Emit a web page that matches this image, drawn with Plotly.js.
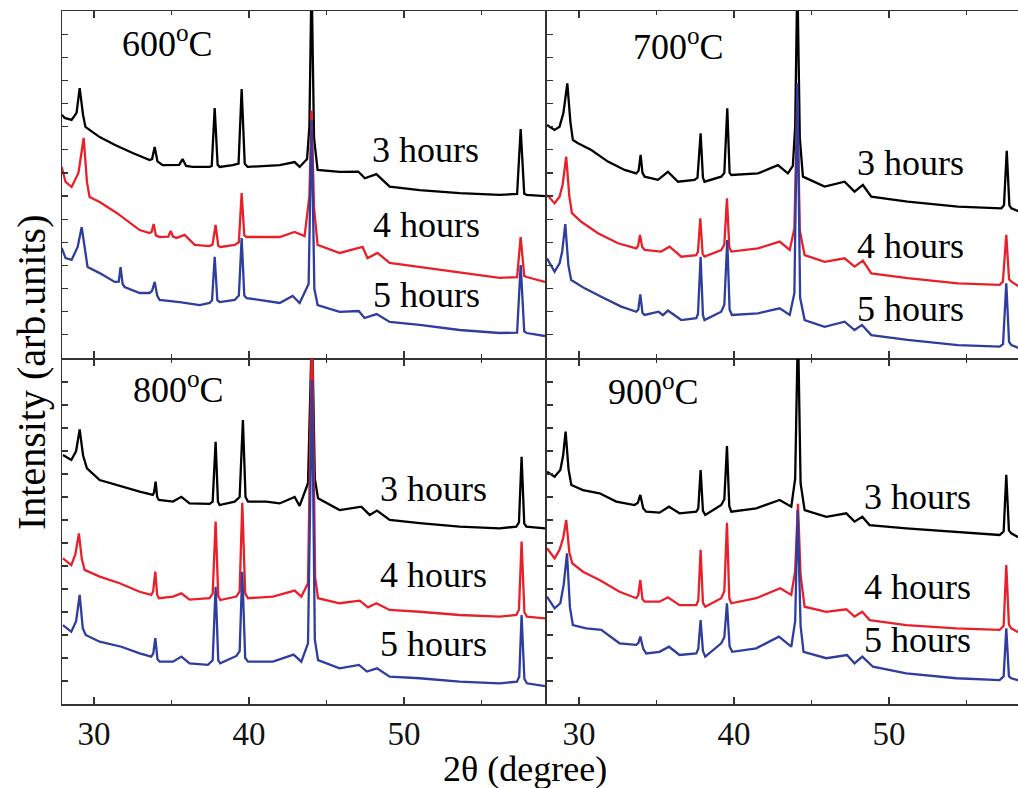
<!DOCTYPE html>
<html>
<head>
<meta charset="utf-8">
<script src="https://cdn.plot.ly/plotly-3.0.1.min.js"></script>
<style>
html,body{margin:0;padding:0;overflow:hidden;background:#fff;}
#chart{width:1040px;height:788px;}
</style>
</head>
<body>
<div id="chart"></div>
<script>
// ---- Data: [2theta, intensity (arb. offset units)] ----
const temps = ["600", "700", "800", "900"];
const hourLabels = ["3 hours", "4 hours", "5 hours"];
const tickVals = [30, 40, 50];
const minorTickVals = [35, 45, 55];

const p600_3h = [[27.92,10.51],[28.11,10.38],[28.56,10.29],[28.88,10.6],[29.08,11.67],[29.3,10.5],[29.45,9.99],[30.37,9.55],[31.4,9.2],[32.5,8.86],[33.59,8.56],[33.75,8.6],[33.92,9.12],[34.1,8.5],[34.43,8.34],[35.5,8.35],[35.72,8.6],[35.95,8.3],[36.37,8.26],[37.46,8.26],[37.6,8.3],[37.79,10.8],[37.98,8.35],[38.11,8.26],[38.95,8.34],[39.33,8.4],[39.53,11.63],[39.73,8.4],[39.92,8.26],[41.98,8.34],[42.95,8.47],[43.27,8.26],[43.75,8.6],[43.9,10],[44.04,16.5],[44.2,9.5],[44.43,8.13],[45.85,8.05],[47.05,8.06],[47.48,7.77],[48.22,7.95],[49.08,7.41],[51.01,7.26],[53.59,7.13],[56.17,7.05],[57.3,7.09],[57.53,9.9],[57.76,7.1],[57.92,7.05],[59.1,7.0]];
const p600_4h = [[27.92,8.26],[28.17,7.61],[28.56,7.39],[29.0,8.0],[29.34,9.51],[29.55,7.6],[29.72,6.96],[30.37,6.74],[31.47,6.27],[32.95,5.53],[33.59,5.4],[33.72,5.45],[33.85,5.79],[34.0,5.3],[34.24,5.23],[34.8,5.25],[34.95,5.49],[35.1,5.25],[35.34,5.19],[35.85,5.32],[36.5,4.89],[37.46,4.84],[37.65,4.9],[37.85,5.75],[38.02,4.85],[38.17,4.8],[39.08,4.89],[39.35,5.0],[39.53,7.13],[39.7,5.3],[39.85,5.23],[41.98,5.23],[42.95,5.45],[43.59,5.27],[43.9,7.0],[44.04,10.7],[44.2,6.5],[44.43,4.89],[45.85,4.54],[47.33,4.8],[47.65,4.32],[48.3,4.54],[49.08,4.11],[51.01,3.93],[53.59,3.72],[56.17,3.46],[57.3,3.5],[57.53,5.23],[57.76,3.55],[57.92,3.5],[59.1,3.29]];
const p600_5h = [[27.92,4.76],[28.17,4.32],[28.56,4.24],[28.95,4.8],[29.21,5.66],[29.42,4.6],[29.59,3.93],[30.37,3.67],[31.34,3.29],[31.6,3.3],[31.72,3.93],[31.85,3.2],[31.98,3.07],[32.95,2.81],[33.59,2.81],[33.75,2.9],[33.92,3.29],[34.08,2.7],[34.24,2.51],[35.53,2.42],[36.82,2.29],[37.46,2.38],[37.62,2.5],[37.79,4.37],[37.96,2.5],[38.11,2.42],[39.08,2.51],[39.35,2.7],[39.53,5.19],[39.7,2.7],[39.85,2.59],[41.98,2.38],[42.82,2.68],[43.27,2.38],[43.85,3.2],[44.04,10.29],[44.22,3.0],[44.43,2.29],[45.85,1.99],[47.08,2.03],[47.46,1.73],[48.24,1.9],[49.08,1.56],[51.01,1.43],[53.59,1.21],[56.17,1.08],[57.3,1.1],[57.53,4.02],[57.76,1.15],[57.92,1.08],[59.1,0.95]];

const p700_3h = [[27.94,10.07],[28.43,9.86],[28.75,10.0],[29.0,10.6],[29.25,11.87],[29.45,10.2],[29.61,9.42],[29.94,9.28],[30.8,8.99],[31.87,8.49],[32.95,8.13],[33.7,7.98],[33.85,8.1],[33.98,8.78],[34.1,8.0],[34.24,7.84],[35.1,7.7],[35.74,8.05],[36.39,7.62],[37.46,7.7],[37.65,7.8],[37.85,9.71],[38.0,7.8],[38.1,7.62],[39.18,7.84],[39.38,8.0],[39.57,10.79],[39.72,8.0],[39.83,7.91],[41.55,7.98],[42.84,8.34],[43.48,7.98],[43.8,8.3],[43.95,10],[44.09,16.5],[44.25,9.5],[44.45,7.84],[45.85,7.41],[47.14,7.62],[47.78,7.19],[48.32,7.48],[48.86,6.97],[51.2,6.76],[54.45,6.54],[57.25,6.47],[57.42,6.6],[57.6,8.96],[57.77,6.6],[57.9,6.47],[58.41,6.33],[59.1,6.3]];
const p700_4h = [[27.94,7.05],[28.43,6.69],[28.75,6.97],[28.95,7.5],[29.18,8.7],[29.38,7.0],[29.55,6.26],[30.15,5.89],[31.23,5.39],[32.52,4.96],[33.7,4.74],[33.82,4.85],[33.94,5.32],[34.08,4.8],[34.24,4.67],[35.3,4.6],[35.85,4.81],[36.6,4.38],[37.57,4.45],[37.68,4.6],[37.83,6.04],[37.98,4.5],[38.1,4.38],[39.18,4.67],[39.38,4.9],[39.55,6.9],[39.7,4.8],[39.83,4.6],[41.55,4.74],[42.95,5.03],[43.6,4.67],[43.9,5.6],[44.09,11.23],[44.25,5.5],[44.56,4.45],[45.85,4.16],[47.14,4.31],[47.78,3.95],[48.32,4.21],[48.86,3.66],[51.2,3.45],[54.45,3.23],[57.14,3.16],[57.35,3.3],[57.57,5.32],[57.75,3.4],[57.9,3.3],[58.41,3.08],[59.1,3.0]];
const p700_5h = [[27.94,4.31],[28.43,3.73],[28.75,4.09],[28.92,4.6],[29.12,5.79],[29.32,4.0],[29.5,3.37],[30.37,3.01],[31.44,2.65],[32.73,2.22],[33.7,2.0],[33.83,2.1],[33.96,2.75],[34.1,1.95],[34.24,1.86],[35.14,2.0],[35.42,1.85],[35.74,2.05],[36.6,1.64],[37.57,1.72],[37.68,1.9],[37.85,4.38],[38.0,1.85],[38.1,1.64],[39.18,2.0],[39.38,2.3],[39.57,5.1],[39.72,2.1],[39.87,1.86],[41.55,1.93],[42.95,2.15],[43.6,1.86],[43.9,2.8],[44.09,11.87],[44.27,2.6],[44.56,1.64],[45.85,1.35],[47.14,1.57],[47.78,1.21],[48.26,1.43],[48.86,0.99],[51.2,0.78],[54.45,0.56],[57.14,0.49],[57.36,0.6],[57.57,3.23],[57.75,0.7],[57.9,0.56],[58.41,0.42],[59.1,0.4]];

const p800_3h = [[28.0,10.83],[28.54,10.61],[28.85,11.0],[29.08,11.94],[29.3,10.8],[29.55,10.25],[30.37,9.74],[31.45,9.52],[32.95,9.23],[33.8,9.09],[33.88,9.2],[33.98,9.67],[34.08,9.0],[34.19,8.87],[35.1,8.8],[35.64,9.01],[36.17,8.72],[37.46,8.7],[37.66,8.8],[37.85,11.4],[38.0,8.8],[38.11,8.65],[39.08,8.8],[39.4,9.0],[39.61,12.35],[39.78,9.0],[39.94,8.8],[41.12,8.8],[41.98,8.72],[42.95,9.0],[43.27,8.61],[43.81,9.6],[44.07,16.5],[44.25,9.8],[44.46,8.94],[45.85,8.43],[47.25,8.58],[47.79,8.22],[48.26,8.41],[49.08,8.0],[51.01,7.86],[53.59,7.71],[56.17,7.64],[57.25,7.71],[57.42,7.9],[57.59,10.75],[57.76,7.85],[57.9,7.71],[58.98,7.64],[59.1,7.64]];
const p800_4h = [[28.0,6.33],[28.54,6.04],[28.8,6.5],[29.03,7.42],[29.22,6.3],[29.4,5.83],[30.37,5.54],[31.66,5.25],[32.95,4.88],[33.7,4.74],[33.82,4.9],[33.96,5.75],[34.08,4.75],[34.19,4.6],[35.1,4.67],[35.64,4.81],[36.17,4.54],[37.46,4.6],[37.66,4.8],[37.85,7.93],[38.02,4.7],[38.15,4.52],[39.19,4.67],[39.4,4.9],[39.57,8.75],[39.76,4.8],[39.94,4.6],[41.55,4.67],[42.95,4.93],[43.38,4.67],[43.81,5.25],[44.07,16.5],[44.27,5.5],[44.46,4.6],[45.85,4.38],[47.15,4.49],[47.68,4.2],[48.22,4.38],[49.08,4.09],[51.01,4.01],[53.59,3.87],[56.17,3.8],[57.25,3.87],[57.42,4.1],[57.59,7.06],[57.77,4.0],[57.93,3.8],[58.98,3.72],[59.1,3.72]];
const p800_5h = [[28.0,3.43],[28.54,3.14],[28.85,3.6],[29.08,4.74],[29.28,3.3],[29.47,3.0],[30.37,2.71],[31.77,2.49],[32.95,2.2],[33.7,2.06],[33.83,2.2],[33.96,2.86],[34.1,1.95],[34.24,1.84],[35.1,1.84],[35.64,2.06],[36.17,1.77],[37.35,1.7],[37.66,1.9],[37.85,5.1],[38.02,1.9],[38.15,1.77],[39.19,2.09],[39.4,2.3],[39.57,5.75],[39.76,2.0],[39.94,1.84],[41.55,1.84],[42.88,2.15],[43.38,1.84],[43.81,2.64],[44.07,14.09],[44.25,2.8],[44.46,1.91],[45.85,1.55],[47.1,1.7],[47.61,1.41],[48.26,1.55],[49.08,1.19],[51.01,1.12],[53.59,0.97],[56.17,0.9],[57.29,0.97],[57.44,1.2],[57.59,3.87],[57.77,1.1],[57.93,0.9],[58.98,0.78],[59.1,0.78]];

const p900_3h = [[27.94,10.1],[28.43,9.88],[28.8,10.17],[28.98,10.8],[29.14,11.84],[29.33,10.2],[29.51,9.52],[30.26,9.3],[31.33,9.16],[32.41,8.8],[33.59,8.65],[33.8,8.75],[33.96,9.09],[34.15,8.5],[34.34,8.36],[35.2,8.32],[35.81,8.58],[36.49,8.29],[37.57,8.36],[37.7,8.5],[37.85,10.17],[38.0,8.4],[38.15,8.22],[39.18,8.65],[39.38,8.9],[39.55,11.22],[39.7,8.6],[39.83,8.36],[41.44,8.51],[42.95,8.87],[43.7,8.58],[43.95,9.8],[44.13,16.5],[44.3,9.6],[44.56,8.43],[45.96,8.14],[47.25,8.29],[47.78,7.93],[48.28,8.14],[48.75,7.78],[51.12,7.64],[54.34,7.49],[57.14,7.35],[57.4,7.5],[57.57,9.96],[57.74,7.55],[57.89,7.42],[58.3,7.27],[59.1,7.25]];
const p900_4h = [[27.94,6.77],[28.43,6.33],[28.75,6.7],[28.98,7.2],[29.18,8.0],[29.38,6.6],[29.57,6.12],[30.26,5.75],[31.33,5.39],[32.62,4.88],[33.7,4.6],[33.83,4.75],[33.96,5.39],[34.1,4.55],[34.24,4.45],[35.2,4.45],[35.74,4.64],[36.49,4.3],[37.57,4.3],[37.7,4.5],[37.85,6.7],[38.0,4.4],[38.15,4.23],[39.18,4.6],[39.38,4.9],[39.55,7.88],[39.7,4.6],[39.83,4.38],[41.44,4.6],[42.99,5.03],[43.7,4.74],[43.95,5.8],[44.13,8.7],[44.3,5.6],[44.56,4.23],[45.96,4.01],[47.25,4.12],[47.78,3.8],[48.28,4.01],[48.75,3.65],[51.12,3.43],[54.34,3.29],[57.14,3.22],[57.4,3.4],[57.57,6.04],[57.74,3.45],[57.89,3.29],[58.3,3.14],[59.1,3.1]];
const p900_5h = [[27.94,4.67],[28.43,4.16],[28.8,4.38],[29.02,5.2],[29.23,6.55],[29.42,4.2],[29.61,3.43],[30.47,3.29],[31.44,3.22],[32.62,2.64],[33.7,2.57],[33.83,2.65],[33.96,2.93],[34.15,2.4],[34.34,2.2],[35.2,2.27],[35.81,2.49],[36.49,2.13],[37.57,2.2],[37.7,2.4],[37.85,3.65],[38.0,2.3],[38.15,2.06],[39.18,2.64],[39.38,2.9],[39.55,4.38],[39.72,2.5],[39.89,2.27],[41.44,2.42],[42.9,2.93],[43.7,2.49],[43.95,3.6],[44.11,8.43],[44.3,3.4],[44.49,2.27],[45.96,1.99],[47.29,2.13],[47.78,1.77],[48.28,2.06],[48.97,1.62],[51.12,1.33],[54.34,1.12],[57.14,1.04],[57.4,1.2],[57.57,3.29],[57.74,1.2],[57.89,1.12],[58.3,1.04],[59.1,1.0]];

const panelSeries = [
  [p600_3h, p600_4h, p600_5h],
  [p700_3h, p700_4h, p700_5h],
  [p800_3h, p800_4h, p800_5h],
  [p900_3h, p900_4h, p900_5h]
];

// ---- Styling / layout ----
const W = 1040, H = 788;
const colors = ["#000000", "#E8202A", "#2E3D9E"];
const FONT = "Liberation Serif, Times New Roman, serif";
const fx = px => px / W;
const fy = py => 1 - py / H;

const xDomL = [fx(62), fx(545)], xDomR = [fx(547), fx(1030)];
const yDomT = [fy(358), fy(11)], yDomB = [fy(704), fy(359)];
const xRange = [27.94, 59.1];

const traces = [];
panelSeries.forEach((series, p) => {
  const sfx = p === 0 ? "" : String(p + 1);
  series.forEach((pts, i) => {
    traces.push({
      type: "scatter", mode: "lines",
      x: pts.map(d => d[0]), y: pts.map(d => d[1]),
      xaxis: "x" + sfx, yaxis: "y" + sfx,
      line: {color: colors[i], width: 2.3},
      hoverinfo: "skip", showlegend: false
    });
  });
});

function xAxis(domain, anchor, labels) {
  return {
    domain, anchor, range: xRange, tickvals: tickVals,
    ticks: "inside", ticklen: 7, tickwidth: 1.3, tickcolor: "#333",
    minor: {tickvals: minorTickVals, ticks: "inside", ticklen: 4, tickwidth: 1.2, tickcolor: "#333"},
    mirror: "allticks", showline: true, linecolor: "#333", linewidth: 1.5,
    showgrid: false, zeroline: false, showticklabels: labels,
    tickfont: {family: FONT, size: 33, color: "#111"}
  };
}
function yAxis(domain, anchor) {
  return {
    domain, anchor, range: [0, 15], tick0: 0, dtick: 1,
    ticks: "inside", ticklen: 6, tickwidth: 1.2, tickcolor: "#333",
    mirror: true, showline: true, linecolor: "#333", linewidth: 1.5,
    showgrid: false, zeroline: false, showticklabels: false
  };
}

const panelLabelPos = [[167, 42], [678, 44], [178, 387], [653, 389]];
const hourLabelPos = [
  [[425, 150], [426, 225], [426, 295]],
  [[910, 163], [910, 246], [910, 309]],
  [[433, 489], [433, 575], [433, 644]],
  [[917, 497], [917, 587], [917, 640]]
];

const annotations = [];
temps.forEach((t, p) => {
  annotations.push({
    xref: "paper", yref: "paper", x: fx(panelLabelPos[p][0]), y: fy(panelLabelPos[p][1]),
    text: t + "<sup>o</sup>C", showarrow: false, xanchor: "center", yanchor: "middle",
    font: {family: FONT, size: 36, color: "#000"}
  });
  hourLabels.forEach((h, i) => {
    annotations.push({
      xref: "paper", yref: "paper", x: fx(hourLabelPos[p][i][0]), y: fy(hourLabelPos[p][i][1]),
      text: h, showarrow: false, xanchor: "center", yanchor: "middle",
      font: {family: FONT, size: 36, color: "#000"}
    });
  });
});
annotations.push({
  xref: "paper", yref: "paper", x: fx(31), y: fy(372), textangle: -90,
  text: "Intensity (arb.units)", showarrow: false, xanchor: "center", yanchor: "middle",
  font: {family: FONT, size: 40, color: "#000"}
});
annotations.push({
  xref: "paper", yref: "paper", x: fx(525), y: fy(769),
  text: "2θ (degree)", showarrow: false, xanchor: "center", yanchor: "middle",
  font: {family: FONT, size: 36, color: "#000"}
});

const layout = {
  width: W, height: H,
  margin: {l: 0, r: 0, t: 0, b: 0},
  paper_bgcolor: "#fff", plot_bgcolor: "#fff",
  showlegend: false,
  font: {family: FONT},
  xaxis: xAxis(xDomL, "y", false),
  yaxis: yAxis(yDomT, "x"),
  xaxis2: xAxis(xDomR, "y2", false),
  yaxis2: yAxis(yDomT, "x2"),
  xaxis3: xAxis(xDomL, "y3", true),
  yaxis3: yAxis(yDomB, "x3"),
  xaxis4: xAxis(xDomR, "y4", true),
  yaxis4: yAxis(yDomB, "x4"),
  annotations
};

Plotly.newPlot("chart", traces, layout, {staticPlot: true, displayModeBar: false});
</script>
</body>
</html>
